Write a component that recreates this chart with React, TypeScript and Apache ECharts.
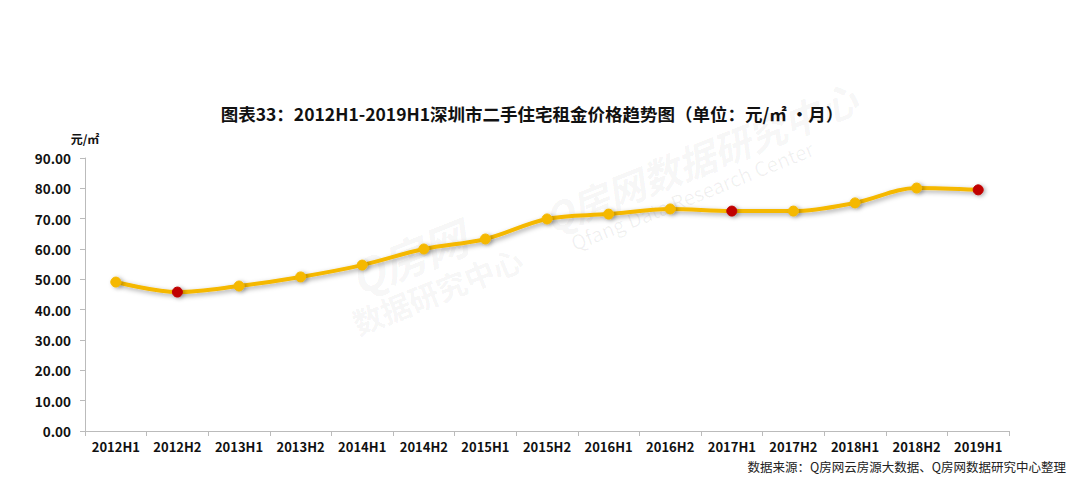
import React, { useEffect, useRef } from "react";
import * as echarts from "echarts";

const categories = ["2012H1","2012H2","2013H1","2013H2","2014H1","2014H2","2015H1","2015H2","2016H1","2016H2","2017H1","2017H2","2018H1","2018H2","2019H1"];
const rentValues = [49.1, 45.8, 47.8, 50.8, 54.7, 60.0, 63.3, 69.9, 71.5, 73.2, 72.5, 72.5, 75.2, 80.1, 79.5];
const highlightIdx = [1, 10, 14];
const yTicks = { min: 0, max: 90, interval: 10 };

export default function App() {
  const ref = useRef<HTMLDivElement>(null);
  useEffect(() => {
    const chart = echarts.init(ref.current!, null, { renderer: "svg" });
    const font = "'Noto Sans CJK SC', 'Noto Sans', sans-serif";
    chart.setOption({
      animation: false,
      backgroundColor: "#fff",
      title: {
        text: "图表33：2012H1-2019H1深圳市二手住宅租金价格趋势图（单位：元/㎡ •月）",
        left: 519, top: 92, textAlign: "center",
        textStyle: { fontSize: 17.5, fontWeight: "bold", color: "#111", fontFamily: font },
      },
      graphic: [
        { type: "text", left: 335, top: 205, rotation: 0.38, z: 0, style: { text: "Q房网", fontSize: 44, fontWeight: "bold", fontStyle: "italic", fill: "rgba(0,0,0,0.05)", fontFamily: font } },
        { type: "text", left: 340, top: 235, rotation: 0.38, z: 0, style: { text: "数据研究中心", fontSize: 30, fontWeight: "bold", fill: "rgba(0,0,0,0.05)", fontFamily: font } },
        { type: "text", left: 530, top: 70, rotation: 0.38, z: 0, style: { text: "Q房网数据研究中心", fontSize: 38, fontWeight: "bold", fontStyle: "italic", fill: "rgba(0,0,0,0.05)", fontFamily: font } },
        { type: "text", left: 560, top: 130, rotation: 0.38, z: 0, style: { text: "Qfang Data Research Center", fontSize: 20, fill: "rgba(0,0,0,0.06)", fontFamily: font } },
        { type: "text", right: 6, top: 452, style: { text: "数据来源：Q房网云房源大数据、Q房网数据研究中心整理", fontSize: 12.5, fill: "#222", fontFamily: font } },
      ],
      grid: { left: 77, right: 63, top: 150, bottom: 52, containLabel: false },
      xAxis: {
        type: "category",
        data: categories,
        boundaryGap: true,
        axisLine: { lineStyle: { color: "#bbb" } },
        axisTick: { show: true, alignWithLabel: false, interval: 0, lineStyle: { color: "#bbb" } },
        axisLabel: { color: "#111", fontWeight: "bold", fontSize: 13, margin: 9, interval: 0, fontFamily: font },
      },
      yAxis: {
        type: "value",
        min: yTicks.min, max: yTicks.max, interval: yTicks.interval,
        name: "元/㎡",
        nameLocation: "end",
        nameGap: 14,
        nameTextStyle: { color: "#111", fontWeight: "bold", fontSize: 12, fontFamily: font },
        axisLine: { show: true, lineStyle: { color: "#bbb" } },
        axisTick: { show: true, lineStyle: { color: "#bbb" } },
        splitLine: { show: false },
        axisLabel: { color: "#111", fontWeight: "bold", fontSize: 13.5, margin: 14, formatter: (v: number) => v.toFixed(2), fontFamily: font },
      },
      series: [
        {
          type: "line",
          smooth: 0.35,
          data: rentValues.map((v, i) => ({
            value: v,
            itemStyle: highlightIdx.includes(i)
              ? { color: "#C00000", borderColor: "#C00000" }
              : { color: "#F5B800", borderColor: "#F5B800" },
          })),
          symbol: "circle",
          symbolSize: 10,
          lineStyle: { color: "#F5B800", width: 4, shadowColor: "rgba(0,0,0,0.35)", shadowBlur: 5, shadowOffsetX: 2, shadowOffsetY: 2 },
          itemStyle: { shadowColor: "rgba(0,0,0,0.3)", shadowBlur: 4, shadowOffsetX: 2, shadowOffsetY: 1 },
          z: 5,
        },
      ],
    });
    return () => chart.dispose();
  }, []);
  return <div ref={ref} style={{ width: 1064, height: 475 }} />;
}
